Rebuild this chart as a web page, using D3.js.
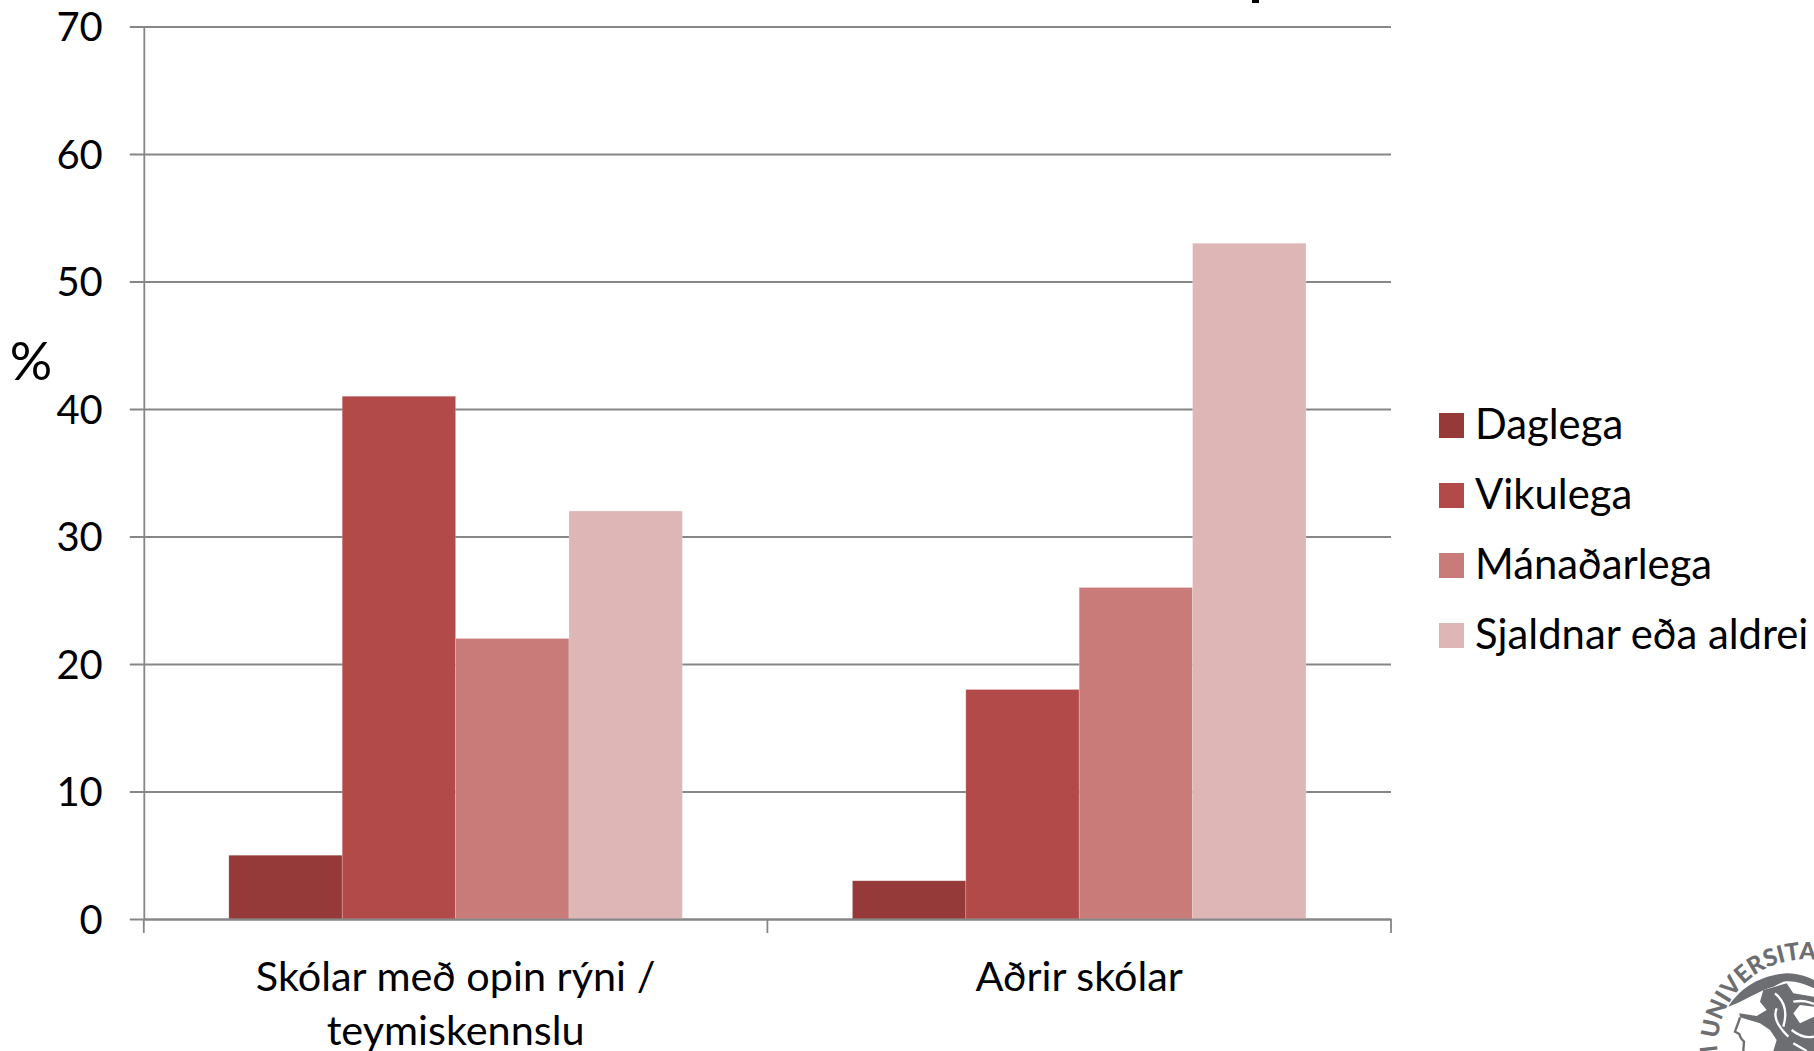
<!DOCTYPE html>
<html><head><meta charset="utf-8">
<script src="https://cdn.jsdelivr.net/npm/d3@7"></script>
<style>html,body{margin:0;padding:0;background:#fff}svg{display:block}text{font-family:Lato,"Open Sans",sans-serif;fill:#000}</style>
</head><body><svg id="c" width="1814" height="1051"></svg>
<script>
const categories=["Skólar með opin rýni / teymiskennslu","Aðrir skólar"];
const categoryLines=[["Skólar með opin rýni /","teymiskennslu"],["Aðrir skólar"]];
const seriesNames=["Daglega","Vikulega","Mánaðarlega","Sjaldnar eða aldrei"];
const daglega=[5,3];
const vikulega=[41,18];
const manadarlega=[22,26];
const sjaldnar=[32,53];
const seriesValues=[daglega,vikulega,manadarlega,sjaldnar];
const colors=["#953A39","#B14A48","#C97B7A","#DEB6B6"];
const yTicks=[0,10,20,30,40,50,60,70];
const svg=d3.select("#c");
const FS=41.4, GREY="#868686";
const y=d3.scaleLinear().domain([0,70]).range([919,26.5]);
const x0=d3.scaleBand().domain(categories).range([143.8,1391]);
const x1=d3.scaleBand().domain(seriesNames).range([0,x0.bandwidth()]).paddingOuter(0.75);
// axes
const ay=svg.append("g").attr("transform","translate(143.8,0)")
 .call(d3.axisLeft(y).tickValues(yTicks).tickSize(0).tickPadding(41));
ay.select(".domain").attr("stroke",GREY).attr("stroke-width",1.8);
ay.selectAll("text").style("font-size","40px").attr("dy","0.35em");
ay.selectAll(".tick").append("line").attr("x1",-14).attr("x2",1247.2).attr("stroke",GREY).attr("stroke-width",1.8);
// bars
svg.append("g").selectAll("g").data(seriesNames).join("g").attr("fill",(d,i)=>colors[i])
 .selectAll("rect").data((s,i)=>categories.map((c,j)=>({c,s,v:seriesValues[i][j]}))).join("rect")
 .attr("x",d=>x0(d.c)+x1(d.s)).attr("width",x1.bandwidth()).attr("y",d=>y(d.v)).attr("height",d=>y(0)-y(d.v))
 .attr("stroke","#fff").attr("stroke-opacity",.25).attr("stroke-width",.8);
// x axis
const ax=svg.append("g").attr("transform","translate(0,919)")
 .call(d3.axisBottom(x0).tickSize(0).tickPadding(0));
ax.select(".domain").attr("stroke",GREY).attr("stroke-width",1.8);
ax.selectAll(".tick text").remove();
ax.selectAll(".tick").each(function(c,i){
  const t=d3.select(this).append("text").attr("text-anchor","middle").style("font-size",FS+"px");
  categoryLines[i].forEach((l,k)=>t.append("tspan").attr("x",0).attr("y",72+k*54).text(l));
});
const edges=[...categories.map(c=>x0(c)),x0.range()[1]];
svg.append("g").selectAll("line").data(edges).join("line")
 .attr("x1",d=>d).attr("x2",d=>d).attr("y1",919).attr("y2",933).attr("stroke",GREY).attr("stroke-width",1.8);
// percent label
svg.append("text").attr("x",31).attr("y",380).attr("text-anchor","middle").style("font-size","53px").text("%");
// legend
const lg=svg.append("g").selectAll("g").data(seriesNames).join("g")
 .attr("transform",(d,i)=>`translate(1439,${413+i*70})`);
lg.append("rect").attr("width",25).attr("height",25).attr("fill",(d,i)=>colors[i]);
lg.append("text").attr("x",36).attr("y",26).style("font-size","41.8px").text(d=>d);
// fragment of slide title above the plot
svg.append("rect").attr("x",1252).attr("y",0).attr("width",7).attr("height",3).attr("fill","#000");
// university seal, cut by the page corner
const SEAL="#6d6e71";
svg.append("defs").append("path").attr("id","ring").attr("d","M1726,1084 A87,87 0 1 1 1888,1071");
svg.append("text").style("fill",SEAL).style("font-size","24px").style("font-weight","900")
 .append("textPath").attr("href","#ring").text("UM\u00a0UNIVERSITAT");
const seal=svg.append("g").attr("transform","translate(1660,930) scale(0.3333)");
seal.append("path").attr("fill",SEAL).attr("d","M205,230 C240,175 300,135 380,130 C420,132 440,140 462,150 L462,175 C430,160 400,150 370,155 L340,170 C300,180 250,215 205,230Z");
seal.append("path").attr("fill",SEAL).attr("d","M310,180 L345,170 L380,160 L400,190 L462,200 L462,230 L420,225 L400,250 L420,280 L462,260 L462,363 L340,363 L350,330 L330,300 L300,280 L240,262 L238,250 L290,258 L320,240 L300,215Z");
seal.append("path").attr("fill","none").attr("stroke","#fff").attr("stroke-width",7).attr("d","M345,190 C370,210 385,240 370,290 M400,215 C430,210 445,215 462,222 M350,235 C340,260 350,285 385,320 M395,300 C420,320 440,325 462,320 M400,340 L440,363");
seal.append("path").attr("fill","none").attr("stroke",SEAL).attr("stroke-width",7).attr("d","M240,262 C235,280 228,295 225,305 L238,312 C240,320 240,325 252,335 L250,363");
</script></body></html>
